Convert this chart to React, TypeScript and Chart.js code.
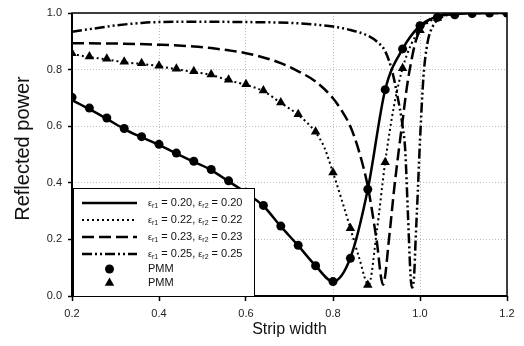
import React, { useEffect, useRef } from "react";
import { Chart, registerables } from "chart.js";

Chart.register(...registerables);

// PMM sample positions (strip width)
const pmmX = [0.2, 0.24, 0.28, 0.32, 0.36, 0.4, 0.44, 0.48, 0.52, 0.56, 0.6, 0.64, 0.68, 0.72, 0.76, 0.8, 0.84, 0.88, 0.92, 0.96, 1.0, 1.04, 1.08, 1.12, 1.16, 1.2];
// PMM circles (eps = 0.20)
const pmmCircleY = [0.702, 0.664, 0.629, 0.592, 0.563, 0.536, 0.505, 0.476, 0.447, 0.407, 0.367, 0.320, 0.247, 0.179, 0.107, 0.051, 0.133, 0.377, 0.729, 0.873, 0.955, 0.985, 0.994, 0.998, 1.0, 1.0];
// PMM triangles (eps = 0.22)
const pmmTriX = [0.2, 0.24, 0.28, 0.32, 0.36, 0.4, 0.44, 0.48, 0.52, 0.56, 0.6, 0.64, 0.68, 0.72, 0.76, 0.8, 0.84, 0.88, 0.92, 0.96, 1.0, 1.04];
const pmmTriY = [0.858, 0.846, 0.838, 0.828, 0.822, 0.814, 0.803, 0.794, 0.783, 0.764, 0.748, 0.726, 0.684, 0.642, 0.580, 0.436, 0.239, 0.039, 0.473, 0.805, 0.939, 0.982];

// Continuous curves
const c20X = [0.2, 0.24, 0.28, 0.32, 0.36, 0.4, 0.44, 0.48, 0.52, 0.56, 0.6, 0.64, 0.68, 0.72, 0.76, 0.8, 0.84, 0.88, 0.92, 0.96, 1.0, 1.04, 1.08, 1.12, 1.16, 1.2];
const c20Y = [0.692, 0.660, 0.626, 0.590, 0.561, 0.534, 0.503, 0.474, 0.445, 0.405, 0.365, 0.318, 0.246, 0.178, 0.107, 0.051, 0.135, 0.377, 0.729, 0.873, 0.955, 0.988, 0.996, 0.999, 1.0, 1.0];

const c22X = [0.2, 0.24, 0.28, 0.32, 0.36, 0.4, 0.44, 0.48, 0.52, 0.56, 0.6, 0.64, 0.68, 0.72, 0.76, 0.78, 0.8, 0.82, 0.84, 0.86, 0.882, 0.9, 0.92, 0.94, 0.96, 0.98, 1.0, 1.04, 1.08, 1.12, 1.2];
const c22Y = [0.855, 0.844, 0.836, 0.826, 0.820, 0.812, 0.801, 0.792, 0.781, 0.762, 0.746, 0.724, 0.682, 0.640, 0.578, 0.525, 0.436, 0.340, 0.239, 0.135, 0.040, 0.22, 0.473, 0.67, 0.805, 0.89, 0.94, 0.985, 0.997, 1.0, 1.0];

const c23X = [0.2, 0.3, 0.4, 0.48, 0.52, 0.56, 0.6, 0.64, 0.68, 0.72, 0.76, 0.8, 0.82, 0.84, 0.86, 0.88, 0.9, 0.915, 0.93, 0.94, 0.95, 0.96, 0.97, 0.98, 0.99, 1.0, 1.02, 1.04, 1.08, 1.2];
const c23Y = [0.893, 0.892, 0.888, 0.882, 0.876, 0.868, 0.858, 0.843, 0.823, 0.794, 0.758, 0.699, 0.655, 0.599, 0.51, 0.387, 0.2, 0.04, 0.22, 0.37, 0.5, 0.62, 0.74, 0.83, 0.9, 0.94, 0.975, 0.99, 0.998, 1.0];

const c25X = [0.2, 0.25, 0.3, 0.36, 0.4, 0.5, 0.6, 0.7, 0.76, 0.8, 0.84, 0.88, 0.9, 0.92, 0.935, 0.947, 0.96, 0.966, 0.972, 0.978, 0.981, 0.986, 0.99, 0.995, 0.999, 1.008, 1.017, 1.03, 1.04, 1.06, 1.1, 1.2];
const c25Y = [0.934, 0.945, 0.956, 0.965, 0.968, 0.969, 0.968, 0.965, 0.959, 0.952, 0.94, 0.92, 0.90, 0.865, 0.80, 0.716, 0.6, 0.516, 0.3, 0.08, 0.03, 0.06, 0.2, 0.37, 0.516, 0.775, 0.893, 0.955, 0.975, 0.992, 1.0, 1.0];

const epsValues = ["0.20", "0.22", "0.23", "0.25"];
const xTicks = [0.2, 0.4, 0.6, 0.8, 1.0, 1.2];
const yTicks = [0.0, 0.2, 0.4, 0.6, 0.8, 1.0];
const yTitle = "Reflected power";
const xTitle = "Strip width";

const FONT = "'Liberation Sans', Arial, sans-serif";

const zip = (xs: number[], ys: number[]) => xs.map((x, i) => ({ x, y: ys[i] }));

const borderPlugin = {
  id: "frameBox",
  beforeDatasetsDraw(chart: any) {
    const { ctx, chartArea } = chart;
    const { left, right, top, bottom } = chartArea;
    ctx.save();
    ctx.strokeStyle = "#000";
    ctx.lineWidth = 1.5;
    ctx.strokeRect(left, top, right - left, bottom - top);
    ctx.lineWidth = 2;
    ctx.beginPath();
    ctx.moveTo(left, top);
    ctx.lineTo(left, bottom);
    ctx.lineTo(right, bottom);
    ctx.stroke();
    ctx.restore();
  },
  afterDraw(chart: any) {
    const { ctx, chartArea } = chart;
    ctx.save();
    ctx.fillStyle = "#111";
    ctx.font = `20px ${FONT}`;
    ctx.textAlign = "center";
    ctx.textBaseline = "middle";
    ctx.translate(23, (chartArea.top + chartArea.bottom) / 2 - 6);
    ctx.rotate(-Math.PI / 2);
    ctx.fillText(yTitle, 0, 0);
    ctx.restore();
  },
};

const legendPlugin = {
  id: "innerLegend",
  afterDatasetsDraw(chart: any) {
    const { ctx, chartArea } = chart;
    const { left, bottom } = chartArea;
    const boxL = left + 1;
    const boxR = left + 183;
    const boxT = bottom - 108;
    const boxB = bottom;
    ctx.save();
    ctx.fillStyle = "#fff";
    ctx.fillRect(boxL, boxT, boxR - boxL, boxB - boxT);
    ctx.strokeStyle = "#000";
    ctx.lineWidth = 1;
    ctx.strokeRect(boxL + 0.5, boxT + 0.5, boxR - boxL - 1, boxB - boxT);
    const rows = [15, 32, 49, 66, 81, 95];
    const sx0 = left + 10;
    const sx1 = left + 65;
    const tx = left + 76;
    chart.data.datasets.forEach((ds: any, i: number) => {
      const y = boxT + rows[i];
      ctx.fillStyle = "#111";
      ctx.strokeStyle = "#000";
      if (ds.showLine !== false && ds.pointRadius === 0) {
        ctx.save();
        ctx.lineWidth = ds.borderWidth;
        ctx.setLineDash(ds.borderDash || []);
        ctx.beginPath();
        ctx.moveTo(sx0, y);
        ctx.lineTo(sx1, y);
        ctx.stroke();
        ctx.restore();
        const parts: [string, boolean][] = ds.labelParts;
        let x = tx;
        ctx.textBaseline = "middle";
        parts.forEach(([t, sub]) => {
          if (t === "ε") {
            ctx.font = `9px ${FONT}`;
            ctx.fillText(t, x, y + 1);
            x += ctx.measureText(t).width;
          } else if (sub) {
            ctx.font = `7px ${FONT}`;
            ctx.fillText(t, x, y + 3);
            x += ctx.measureText(t).width;
          } else {
            ctx.font = `11px ${FONT}`;
            ctx.fillText(t, x, y);
            x += ctx.measureText(t).width;
          }
        });
      } else {
        const cx = (sx0 + sx1) / 2;
        ctx.fillStyle = "#000";
        ctx.beginPath();
        if (ds.pointStyle === "triangle") {
          const r = ds.pointRadius;
          for (let k = 0; k < 3; k++) {
            const a = (k * 2 * Math.PI) / 3;
            const px = cx + Math.sin(a) * r;
            const py = y - Math.cos(a) * r;
            if (k === 0) ctx.moveTo(px, py);
            else ctx.lineTo(px, py);
          }
          ctx.closePath();
        } else {
          ctx.arc(cx, y, ds.pointRadius, 0, Math.PI * 2);
        }
        ctx.fill();
        ctx.fillStyle = "#111";
        ctx.font = `11px ${FONT}`;
        ctx.textBaseline = "middle";
        ctx.fillText(ds.label, tx, y);
      }
    });
    ctx.restore();
  },
};

export default function App() {
  const ref = useRef<HTMLCanvasElement | null>(null);
  useEffect(() => {
    if (!ref.current) return;
    const mkParts = (v: string): [string, boolean][] => [
      ["ε", false], ["r1", true], [` = ${v}, `, false], ["ε", false], ["r2", true], [` = ${v}`, false],
    ];
    const curves = [
      { x: c20X, y: c20Y, dash: [], w: 2.5 },
      { x: c22X, y: c22Y, dash: [2, 3], w: 2 },
      { x: c23X, y: c23Y, dash: [12, 5], w: 2.5 },
      { x: c25X, y: c25Y, dash: [10, 3, 2, 3, 2, 3], w: 2.5 },
    ];
    const lineSets = curves.map((c, i) => ({
      type: "line",
      label: `εr1 = ${epsValues[i]}, εr2 = ${epsValues[i]}`,
      labelParts: mkParts(epsValues[i]),
      data: zip(c.x, c.y),
      borderColor: "#000",
      borderWidth: c.w,
      borderDash: c.dash,
      pointRadius: 0,
      fill: false,
      cubicInterpolationMode: "monotone",
      order: 2,
    }));
    const chart = new Chart(ref.current, {
      type: "line",
      data: {
        datasets: [
          ...lineSets,
          {
            type: "line",
            label: "PMM",
            data: zip(pmmX, pmmCircleY),
            showLine: false,
            pointStyle: "circle",
            pointRadius: 4.5,
            pointBackgroundColor: "#000",
            pointBorderColor: "#000",
            pointBorderWidth: 0,
            order: 1,
          },
          {
            type: "line",
            label: "PMM",
            data: zip(pmmTriX, pmmTriY),
            showLine: false,
            pointStyle: "triangle",
            pointRadius: 5.5,
            pointBackgroundColor: "#000",
            pointBorderColor: "#000",
            pointBorderWidth: 0,
            order: 1,
          },
        ] as any,
      },
      options: {
        animation: false,
        responsive: false,
        devicePixelRatio: 1,
        layout: { padding: { top: 13, right: 17, left: 0, bottom: 0 } },
        plugins: { legend: { display: false }, tooltip: { enabled: false } },
        scales: {
          x: {
            type: "linear",
            min: 0.2,
            max: 1.2,
            afterFit: (s: any) => { s.height = 50; },
            afterBuildTicks: (s: any) => { s.ticks = xTicks.map((v) => ({ value: v })); },
            ticks: {
              callback: (v: any) => Number(v).toFixed(1),
              color: "#222",
              font: { family: FONT, size: 11 },
              padding: 6,
              maxRotation: 0,
            },
            grid: {
              color: "#bdbdbd",
              lineWidth: 1,
              tickColor: "#000",
              tickLength: 5,
              tickWidth: 1.5,
            } as any,
            border: { display: false, dash: [1, 2] },
            title: {
              display: true,
              text: xTitle,
              color: "#111",
              font: { family: FONT, size: 16 },
              padding: { top: 0, bottom: 7 },
            },
          },
          y: {
            type: "linear",
            min: 0,
            max: 1,
            afterFit: (s: any) => { s.width = 72; },
            afterBuildTicks: (s: any) => { s.ticks = yTicks.map((v) => ({ value: v })); },
            ticks: {
              callback: (v: any) => Number(v).toFixed(1),
              color: "#222",
              font: { family: FONT, size: 11 },
              padding: 6,
            },
            grid: {
              color: "#bdbdbd",
              lineWidth: 1,
              tickColor: "#000",
              tickLength: 4,
              tickWidth: 1.5,
            } as any,
            border: { display: false, dash: [1, 2] },
            title: { display: false },
          },
        },
      } as any,
      plugins: [borderPlugin, legendPlugin],
    });
    return () => chart.destroy();
  }, []);
  return (
    <div style={{ position: "fixed", left: 0, top: 0, width: 524, height: 346, background: "#fff" }}>
      <canvas ref={ref} width={524} height={346} style={{ width: 524, height: 346, display: "block" }} />
    </div>
  );
}
